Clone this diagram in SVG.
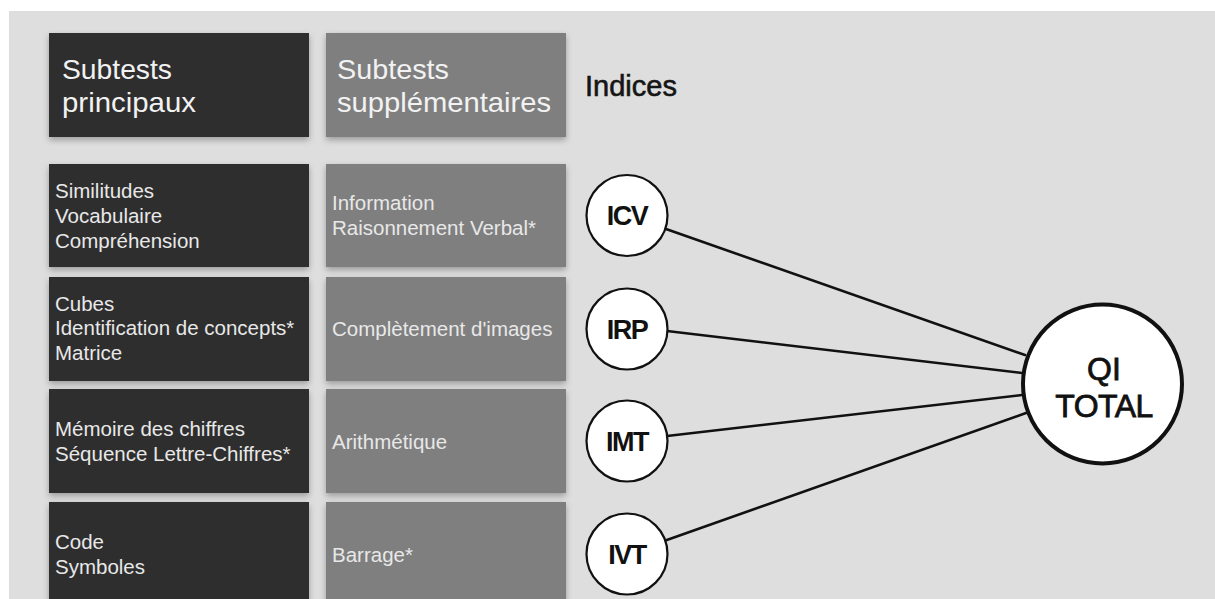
<svg xmlns="http://www.w3.org/2000/svg" width="1215" height="599" viewBox="0 0 1215 599">
  <defs>
    <filter id="sh" x="-10%" y="-10%" width="120%" height="130%">
      <feDropShadow dx="0" dy="3" stdDeviation="3" flood-color="#000" flood-opacity="0.3"/>
    </filter>
    <style>
      .dark { fill: #2d2d2d; filter: url(#sh); }
      .gray { fill: #7f7f7f; filter: url(#sh); }
      .hdr { font-family: "Liberation Sans", Arial, sans-serif; font-size: 28px; fill: #f2f2f2; }
      .row { font-family: "Liberation Sans", Arial, sans-serif; font-size: 20.5px; fill: #e8e8e8; }
      .idx { font-family: "Liberation Sans", Arial, sans-serif; font-size: 27px; font-weight: bold; fill: #111; letter-spacing: -1.5px; text-anchor: middle; }
      .qi { font-family: "Liberation Sans", Arial, sans-serif; font-size: 32px; fill: #111; stroke: #111; stroke-width: 0.8; text-anchor: middle; }
      .node { fill: #fff; stroke: #111; stroke-width: 2.2; }
      .conn line { stroke: #111; stroke-width: 2.6; stroke-linecap: round; }
    </style>
  </defs>
  <rect x="0" y="0" width="1215" height="599" fill="#ffffff"/>
  <rect x="9" y="11" width="1206" height="588" fill="#dedede"/>

  <g id="header-principaux">
    <rect class="dark" x="49" y="33" width="260" height="104"/>
    <text class="hdr" x="62" y="79" textLength="110" lengthAdjust="spacingAndGlyphs">Subtests</text>
    <text class="hdr" x="62" y="111.5" textLength="134" lengthAdjust="spacingAndGlyphs">principaux</text>
  </g>
  <g id="header-supplementaires">
    <rect class="gray" x="326" y="33" width="240" height="104"/>
    <text class="hdr" x="337" y="79" textLength="112" lengthAdjust="spacingAndGlyphs">Subtests</text>
    <text class="hdr" x="337" y="111.5" textLength="214" lengthAdjust="spacingAndGlyphs">supplémentaires</text>
  </g>
  <g id="header-indices">
    <text x="585" y="96" font-family="Liberation Sans, Arial, sans-serif" font-size="29" fill="#151515" stroke="#151515" stroke-width="0.6">Indices</text>
  </g>

  <g id="row1-principaux">
    <rect class="dark" x="49" y="164" width="260" height="103"/>
    <text class="row" x="55" y="197.5">Similitudes</text>
    <text class="row" x="55" y="222.5">Vocabulaire</text>
    <text class="row" x="55" y="247.5">Compréhension</text>
  </g>
  <g id="row1-supplementaires">
    <rect class="gray" x="326" y="164" width="240" height="103"/>
    <text class="row" x="332" y="210">Information</text>
    <text class="row" x="332" y="234.5">Raisonnement Verbal*</text>
  </g>

  <g id="row2-principaux">
    <rect class="dark" x="49" y="277" width="260" height="104"/>
    <text class="row" x="55" y="310.5">Cubes</text>
    <text class="row" x="55" y="335">Identification de concepts*</text>
    <text class="row" x="55" y="359.5">Matrice</text>
  </g>
  <g id="row2-supplementaires">
    <rect class="gray" x="326" y="277" width="240" height="104"/>
    <text class="row" x="332" y="336">Complètement d'images</text>
  </g>

  <g id="row3-principaux">
    <rect class="dark" x="49" y="389" width="260" height="104"/>
    <text class="row" x="55" y="435.5">Mémoire des chiffres</text>
    <text class="row" x="55" y="460.5">Séquence Lettre-Chiffres*</text>
  </g>
  <g id="row3-supplementaires">
    <rect class="gray" x="326" y="389" width="240" height="104"/>
    <text class="row" x="332" y="448.5">Arithmétique</text>
  </g>

  <g id="row4-principaux">
    <rect class="dark" x="49" y="502" width="260" height="110"/>
    <text class="row" x="55" y="548.5">Code</text>
    <text class="row" x="55" y="573.5">Symboles</text>
  </g>
  <g id="row4-supplementaires">
    <rect class="gray" x="326" y="502" width="240" height="110"/>
    <text class="row" x="332" y="561.5">Barrage*</text>
  </g>

  <g id="connectors" class="conn">
    <line x1="666" y1="229" x2="1025" y2="355"/>
    <line x1="667" y1="331" x2="1022" y2="373"/>
    <line x1="667" y1="436" x2="1022" y2="395"/>
    <line x1="664" y1="541" x2="1026" y2="413"/>
  </g>

  <g id="node-icv">
    <circle class="node" cx="627" cy="215.5" r="40.5"/>
    <text class="idx" x="627" y="225">ICV</text>
  </g>
  <g id="node-irp">
    <circle class="node" cx="627" cy="329" r="40.5"/>
    <text class="idx" x="627" y="338.5">IRP</text>
  </g>
  <g id="node-imt">
    <circle class="node" cx="627" cy="441" r="40.5"/>
    <text class="idx" x="627" y="450.5">IMT</text>
  </g>
  <g id="node-ivt">
    <circle class="node" cx="627" cy="554" r="40.5"/>
    <text class="idx" x="627" y="563.5">IVT</text>
  </g>
  <g id="node-qi-total">
    <circle cx="1102.5" cy="384" r="79.5" fill="#fff" stroke="#111" stroke-width="4"/>
    <text class="qi" x="1104" y="380">QI</text>
    <text class="qi" x="1104" y="416.5" letter-spacing="-0.5">TOTAL</text>
  </g>
</svg>
